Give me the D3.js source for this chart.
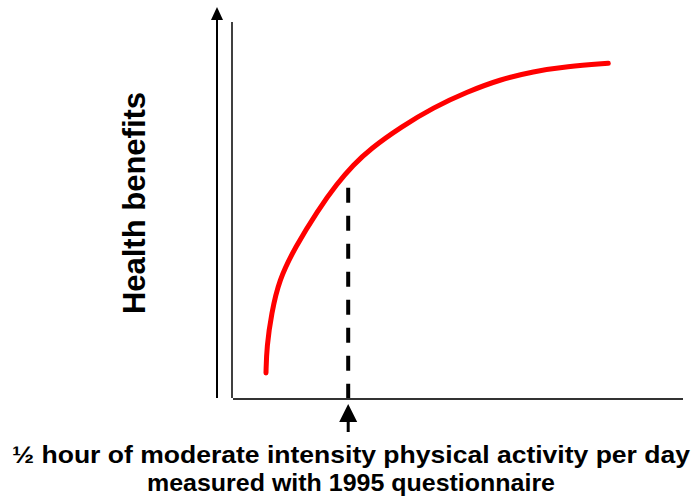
<!DOCTYPE html>
<html>
<head>
<meta charset="utf-8">
<script src="https://cdn.jsdelivr.net/npm/d3@7"></script>
<style>
  body { margin: 0; background: #fff; }
  text { font-family: "Liberation Sans", Arial, sans-serif; font-weight: bold; fill: #000; }
</style>
</head>
<body>
<div id="chart"></div>
<script>
// curva concettuale: attività (x) vs benefici (y), scala 0-100
const activity = [7.33, 7.49, 8.56, 10.22, 13.78, 18.82, 23.04, 26.73, 30.44, 37.49, 44.51, 51.93, 59.33, 66.73, 74.16, 83.40];
const benefit  = [6.61, 13.57, 22.41, 31.22, 39.81, 49.60, 56.61, 61.64, 65.87, 71.83, 76.85, 80.95, 84.26, 86.38, 87.70, 88.54];
const markerX = [25.6];      // mezz'ora di attività moderata
const markerTop = [55.6];
const yLabel = "Health benefits";
const xLabelLines = ["½ hour of moderate intensity physical activity per day", "measured with 1995 questionnaire"];
const xLabelWidths = [678, 408];

const width = 696, height = 503;
const svg = d3.select('#chart').append('svg')
    .attr('width', width).attr('height', height);

const x = d3.scaleLinear().domain([0, 100]).range([233, 683]);
const y = d3.scaleLinear().domain([0, 100]).range([398, 20]);

// freccia asse y
svg.append('line')
    .attr('x1', 217).attr('x2', 217).attr('y1', y(0)).attr('y2', 18)
    .attr('stroke', '#000').attr('stroke-width', 2);
svg.append('path')
    .attr('d', 'M217,7 L223,20 L211,20 Z')
    .attr('fill', '#000');

// assi
svg.append('line')
    .attr('x1', x(0) - 1).attr('x2', x(0) - 1).attr('y1', 22).attr('y2', y(0))
    .attr('stroke', '#000').attr('stroke-width', 1.5);
svg.append('line')
    .attr('x1', x(0)).attr('x2', x(100)).attr('y1', y(0) + 1).attr('y2', y(0) + 1)
    .attr('stroke', '#333').attr('stroke-width', 2);

// linea tratteggiata
svg.selectAll('.marker').data(markerX).enter().append('line')
    .attr('class', 'marker')
    .attr('x1', d => x(d)).attr('x2', d => x(d))
    .attr('y1', (d, i) => y(markerTop[i])).attr('y2', y(0))
    .attr('stroke', '#000').attr('stroke-width', 4)
    .attr('stroke-dasharray', '15,13');

// freccia sotto
const mx = x(markerX[0]);
svg.append('line')
    .attr('x1', mx).attr('x2', mx).attr('y1', 420).attr('y2', 432)
    .attr('stroke', '#000').attr('stroke-width', 3);
svg.append('path')
    .attr('d', `M${mx},404 L${mx + 9},422 L${mx - 9},422 Z`)
    .attr('fill', '#000');

// curva rossa (basis per una curva liscia)
const line = d3.line()
    .x((d, i) => x(activity[i]))
    .y(d => y(d))
    .curve(d3.curveBasis);
svg.append('path')
    .attr('d', line(benefit))
    .attr('fill', 'none')
    .attr('stroke', '#ff0000')
    .attr('stroke-width', 5)
    .attr('stroke-linecap', 'round');

// etichette
svg.append('text')
    .attr('transform', 'translate(145,203) rotate(-90)')
    .attr('text-anchor', 'middle')
    .style('font-size', '31px')
    .text(yLabel);

svg.selectAll('.xlabel').data(xLabelLines).enter().append('text')
    .attr('class', 'xlabel')
    .attr('x', 351)
    .attr('y', (d, i) => 463 + i * 28)
    .attr('text-anchor', 'middle')
    .attr('textLength', (d, i) => xLabelWidths[i])
    .attr('lengthAdjust', 'spacingAndGlyphs')
    .style('font-size', '24px')
    .text(d => d);
</script>
</body>
</html>
